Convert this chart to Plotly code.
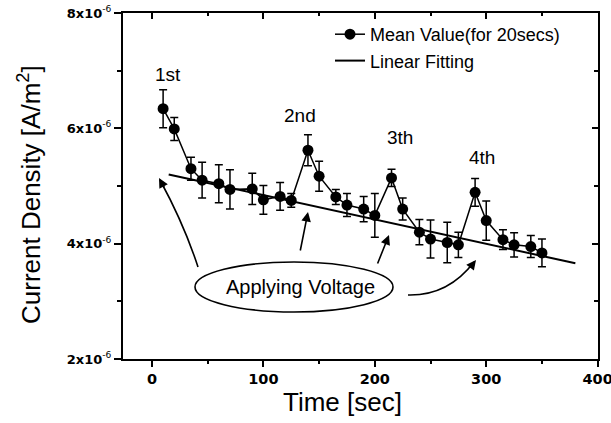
import plotly.graph_objects as go

# ---- data (current density in units of 1e-6 A/m^2) ----
time_s = [10, 20, 35, 45, 60, 70, 90, 100, 115, 125, 140, 150, 165, 175,
          190, 200, 215, 225, 240, 250, 265, 275, 290, 300, 315, 325, 340, 350]
mean_val = [6.34, 5.99, 5.30, 5.10, 5.04, 4.94, 4.95, 4.76, 4.82, 4.75, 5.62, 5.17, 4.81, 4.67,
            4.60, 4.49, 5.14, 4.60, 4.20, 4.08, 4.02, 3.98, 4.89, 4.40, 4.07, 3.98, 3.95, 3.84]
err_val = [0.33, 0.20, 0.20, 0.31, 0.33, 0.34, 0.27, 0.25, 0.24, 0.12, 0.27, 0.26, 0.13, 0.20,
           0.22, 0.38, 0.15, 0.19, 0.22, 0.33, 0.35, 0.22, 0.24, 0.34, 0.17, 0.21, 0.19, 0.24]
fit_t = [15, 380]
fit_val = [5.20, 3.66]
SCALE = 1e-6

y_ticks = [2e-6, 4e-6, 6e-6, 8e-6]
y_ticktext = ["<b>2x10</b><sup>-6</sup>", "<b>4x10</b><sup>-6</sup>",
              "<b>6x10</b><sup>-6</sup>", "<b>8x10</b><sup>-6</sup>"]
x_ticks = [0, 100, 200, 300, 400]
x_ticktext = ["<b>0</b>", "<b>100</b>", "<b>200</b>", "<b>300</b>", "<b>400</b>"]
peak_labels = ["1st", "2nd", "3th", "4th"]

W, H = 611, 423
L, R, T, B = 123, 598, 13, 359


def P(px, py):
    return (px - L) / (R - L), (B - py) / (B - T)


fig = go.Figure()
fig.add_trace(go.Scatter(
    x=time_s, y=[v * SCALE for v in mean_val],
    mode="lines+markers", name="Mean Value(for 20secs)",
    line=dict(color="black", width=1.5),
    marker=dict(color="black", size=11),
    error_y=dict(type="data", array=[e * SCALE for e in err_val],
                 color="black", thickness=1.5, width=4),
))
fig.add_trace(go.Scatter(
    x=fit_t, y=[v * SCALE for v in fit_val], mode="lines", name="Linear Fitting",
    line=dict(color="black", width=2),
))
fig.add_trace(go.Scatter(x=[None], y=[None], xaxis="x2", yaxis="y2",
                         showlegend=False, hoverinfo="skip"))

XR = [-26, 400.3]
common = dict(tickwidth=1.5, tickcolor="black", showline=True, linewidth=2,
              linecolor="black", showgrid=False, zeroline=False, automargin=False)
fig.update_layout(
    width=W, height=H,
    margin=dict(l=L, r=W - R, t=T, b=H - B, autoexpand=False),
    paper_bgcolor="white", plot_bgcolor="white",
    font=dict(family="Liberation Sans", color="black"),
    showlegend=True,
    legend=dict(x=P(330, 0)[0], y=P(0, 16)[1], xanchor="left", yanchor="top",
                bgcolor="rgba(0,0,0,0)", font=dict(size=18, family="Liberation Sans"),
                tracegroupgap=0, itemwidth=30),
    xaxis=dict(range=XR, tickvals=x_ticks, ticktext=x_ticktext, ticks="outside", ticklen=6,
               ticklabeloverflow="allow",
               tickfont=dict(family="DejaVu Sans", size=14.5, color="black"),
               minor=dict(tickmode="linear", tick0=0, dtick=50, ticks="outside",
                          ticklen=3, tickwidth=1.5, tickcolor="black", showgrid=False),
               **common),
    yaxis=dict(range=[2e-6, 8e-6], tickvals=y_ticks, ticktext=y_ticktext,
               ticks="outside", ticklen=7, ticklabeloverflow="allow",
               tickfont=dict(family="DejaVu Sans", size=13, color="black"),
               minor=dict(tickmode="linear", tick0=0, dtick=1e-6, ticks="outside",
                          ticklen=4, tickwidth=1.5, tickcolor="black", showgrid=False),
               **common),
    xaxis2=dict(overlaying="x", side="top", anchor="y", range=XR,
                tickvals=x_ticks, ticks="inside", ticklen=6, showticklabels=False,
                minor=dict(tickmode="linear", tick0=0, dtick=50, ticks="inside",
                           ticklen=3, tickwidth=1.5, tickcolor="black", showgrid=False),
                **common),
    yaxis2=dict(overlaying="y", side="right", anchor="x", range=[2e-6, 8e-6],
                tickvals=y_ticks, ticks="inside", ticklen=6, showticklabels=False,
                minor=dict(tickmode="linear", tick0=0, dtick=1e-6, ticks="inside",
                           ticklen=4, tickwidth=1.5, tickcolor="black", showgrid=False),
                **common),
)


def label(px, py, text, size, angle=0):
    x, y = P(px, py)
    return dict(x=x, y=y, xref="paper", yref="paper", text=text, showarrow=False,
                xanchor="center", yanchor="middle", textangle=angle,
                font=dict(size=size, family="Liberation Sans"))


ann = []
ann.append(label(342, 402, "Time [sec]", 26))
ann.append(label(29, 195, "Current Density [A/m<sup>2</sup>]", 26, -90))
for lab, (px, py) in zip(peak_labels, [(168, 74), (300, 115), (400, 137), (482, 157)]):
    ann.append(label(px, py, lab, 19))
ann.append(label(300, 287, "Applying Voltage", 20))
for (hx, hy, ax, ay) in [(159, 178, 6, 11), (308, 212, -8, 40), (389, 235, -12, 30), (476, 260, -7, 9)]:
    x, y = P(hx, hy)
    ann.append(dict(x=x, y=y, xref="paper", yref="paper", text="", showarrow=True,
                    ax=ax, ay=ay, arrowhead=2, arrowsize=1.2, arrowwidth=1.6,
                    arrowcolor="black", standoff=0))
fig.update_layout(annotations=ann)

shapes = []
x0, y0 = P(195, 312)
x1, y1 = P(393, 262)
shapes.append(dict(type="circle", xref="paper", yref="paper", x0=x0, y0=y0, x1=x1, y1=y1,
                   line=dict(color="black", width=1.6)))


def curve(p0, c, p1):
    a = P(*p0); b = P(*c); d = P(*p1)
    return f"M {a[0]:.5f},{a[1]:.5f} Q {b[0]:.5f},{b[1]:.5f} {d[0]:.5f},{d[1]:.5f}"


shapes.append(dict(type="path", xref="paper", yref="paper",
                   path=curve((198, 267), (184, 224), (160, 180)),
                   line=dict(color="black", width=1.6)))
shapes.append(dict(type="path", xref="paper", yref="paper",
                   path=curve((408, 295), (448, 296), (474, 262)),
                   line=dict(color="black", width=1.6)))
fig.update_layout(shapes=shapes)

fig.write_html("out.html")
